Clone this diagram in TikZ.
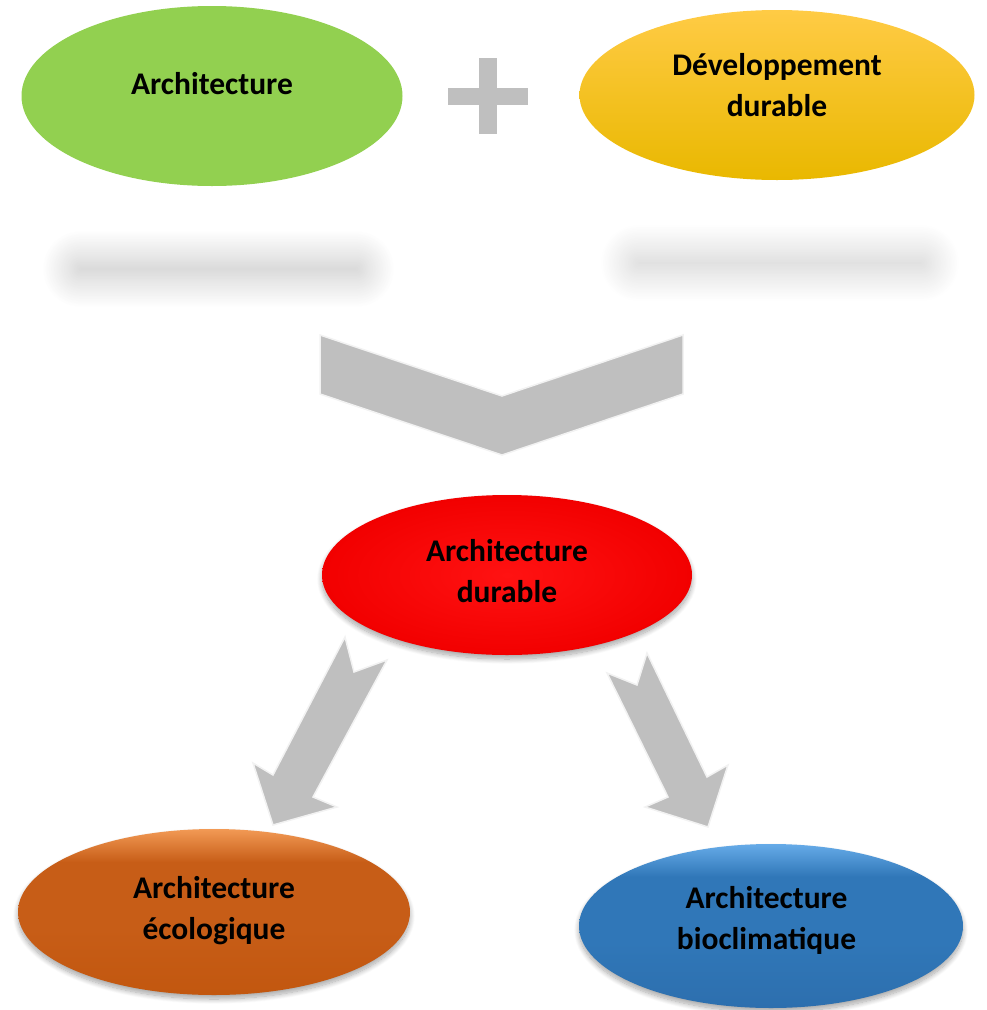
\documentclass[tikz,border=0pt]{standalone}
\usepackage{fontspec}
\setmainfont{Carlito}
\usetikzlibrary{shapes.geometric, shadows.blur}

\definecolor{vertArchi}{HTML}{92D050}
\definecolor{jauneHaut}{HTML}{FFCB45}
\definecolor{jauneMilieu}{HTML}{FFC400}
\definecolor{jauneBas}{HTML}{E9B800}
\definecolor{rougeCentre}{HTML}{FF1212}
\definecolor{rougeBord}{HTML}{F20000}
\definecolor{orangeHaut}{HTML}{F29A55}
\definecolor{orangeMilieu}{HTML}{C75D17}
\definecolor{orangeBas}{HTML}{C2570F}
\definecolor{bleuHaut}{HTML}{66ABE8}
\definecolor{bleuMilieu}{HTML}{3077B8}
\definecolor{bleuBas}{HTML}{2D6FAE}
\definecolor{grisFleche}{HTML}{BFBFBF}
\definecolor{grisBord}{HTML}{F2F2F2}

% Dégradés avec un liseré clair en haut (le contour occupe 25bp--75bp)
\pgfdeclareverticalshading{degradeOrange}{100bp}{color(0bp)=(orangeBas); color(25bp)=(orangeBas); color(45bp)=(orangeMilieu); color(65bp)=(orangeMilieu); color(75bp)=(orangeHaut); color(100bp)=(orangeHaut)}
\pgfdeclareverticalshading{degradeBleu}{100bp}{color(0bp)=(bleuBas); color(25bp)=(bleuBas); color(45bp)=(bleuMilieu); color(65bp)=(bleuMilieu); color(75bp)=(bleuHaut); color(100bp)=(bleuHaut)}

\begin{document}
\begin{tikzpicture}[x=1pt, y=-1pt, every node/.style={font=\fontsize{31.5}{41}\selectfont\bfseries},
    bulle/.style={ellipse, inner sep=0pt},
    texte/.style={align=center, text=black},
    bloc/.style={fill=grisFleche, draw=grisBord, line width=1.5pt, line join=miter},
    ombre/.style={blur shadow={shadow xshift=0pt, shadow yshift=-4pt, shadow blur radius=5pt, shadow blur steps=12, shadow opacity=35}},
    flou/.style={blur shadow={shadow xshift=0pt, shadow yshift=0pt, shadow blur radius=30pt, shadow blur steps=40, shadow opacity=#1}}]

                \useasboundingbox (0,0) rectangle (987,1010);

                % Ombres flottantes sous les bulles du haut
                \path[flou=22, rounded corners=8pt] (72,260) rectangle (365,278);
                \path[flou=18, rounded corners=8pt] (630,254) rectangle (930,272);

                % Bulles du haut
                \node[bulle, fill=vertArchi, minimum width=381pt, minimum height=180pt] (archi) at (212,96) {};
                \node[texte] (archiTxt) at ([yshift=12pt]archi.center) {Architecture};

                \node[bulle, top color=jauneHaut, middle color=jauneMilieu, bottom color=jauneBas, minimum width=395pt, minimum height=170pt] (devdur) at (777,95) {};
                \node[texte] (devdurTxt) at ([yshift=9.5pt]devdur.center) {Développement\\durable};

                % Signe plus
                \fill[grisFleche] (448,88) rectangle (528,105);
                \fill[grisFleche] (479,58) rectangle (497,134);

                % Chevron vers le bas
                \draw[bloc] (320,335) -- (502,396) -- (683,335) -- (683,394) -- (502,455) -- (320,394) -- cycle;

                % Bulle centrale
                \node[bulle, ombre, inner color=rougeCentre, outer color=rougeBord, minimum width=370pt, minimum height=160pt] (archidur) at (507,575) {};
                \node[texte] (archidurTxt) at ([yshift=3.5pt]archidur.center) {Architecture\\durable};

                % Flèches vers les deux bulles du bas
                \draw[bloc] (345,637) -- (354,672) -- (387,660) -- (313,797) -- (337,807) -- (273,825) -- (253,763) -- (273,775) -- cycle;
                \draw[bloc] (647,653) -- (637,685) -- (607,673) -- (668,797) -- (645,807) -- (708,827) -- (728,765) -- (707,777) -- cycle;

                % Bulles du bas
                \node[bulle, ombre, shading=degradeOrange, minimum width=392pt, minimum height=166pt] (archieco) at (214,912) {};
                \node[texte] (archiecoTxt) at ([yshift=1pt]archieco.center) {Architecture\\écologique};

                \node[bulle, ombre, shading=degradeBleu, minimum width=384pt, minimum height=164pt] (archibio) at (771,926) {};
                \node[texte] (archibioTxt) at ([xshift=-4.5pt, yshift=6pt]archibio.center) {Architecture\\bioclimatique};
            \end{tikzpicture}
\end{document}
